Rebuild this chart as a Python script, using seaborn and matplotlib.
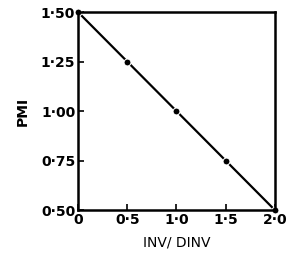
import matplotlib
matplotlib.use("Agg")
import matplotlib.pyplot as plt
import seaborn as sns
import pandas as pd

inv_dinv = [0.0, 0.5, 1.0, 1.5, 2.0]
pmi = [1.50, 1.25, 1.00, 0.75, 0.50]
x_ticks = [0, 0.5, 1.0, 1.5, 2.0]
x_labels = ["0", "0·5", "1·0", "1·5", "2·0"]
y_ticks = [0.50, 0.75, 1.00, 1.25, 1.50]
y_labels = ["0·50", "0·75", "1·00", "1·25", "1·50"]

sns.set_style("ticks")
plt.rcParams['font.family'] = ['DejaVu Sans']

df = pd.DataFrame({"INV/DINV": inv_dinv, "PMI": pmi})

fig = plt.figure(figsize=(2.9, 2.68), dpi=100)
ax = fig.add_axes([0.269, 0.216, 0.679, 0.739])
sns.lineplot(data=df, x="INV/DINV", y="PMI", ax=ax, color="black",
             linewidth=1.6, marker="o", markersize=5, clip_on=False)

ax.set_xlim(0, 2.0)
ax.set_ylim(0.5, 1.5)
ax.set_xticks(x_ticks)
ax.set_xticklabels(x_labels)
ax.set_yticks(y_ticks)
ax.set_yticklabels(y_labels)
for s in ax.spines.values():
    s.set_visible(True)
    s.set_linewidth(1.8)
    s.set_color("black")
ax.tick_params(direction="in", length=4, width=1.2, labelsize=10, pad=2, colors="black")
for lab in ax.get_xticklabels() + ax.get_yticklabels():
    lab.set_fontweight("bold")
ax.set_xlabel("INV/ DINV", fontsize=10, labelpad=6, color="black")
ax.set_ylabel("PMI", fontsize=10, fontweight="bold", labelpad=8, color="black")

fig.savefig("out.png", dpi=100)
